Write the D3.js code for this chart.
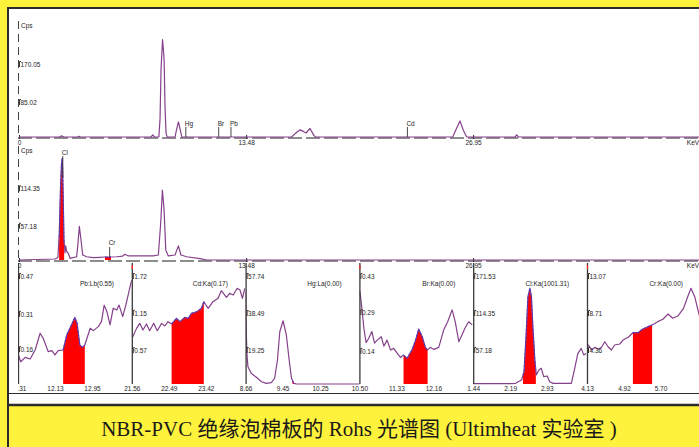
<!DOCTYPE html>
<html>
<head>
<meta charset="utf-8">
<script src="https://cdn.jsdelivr.net/npm/d3@7"></script>
<style>
  html, body { margin: 0; padding: 0; background: #fff23c; }
  svg { display: block; }
  .lbl { font-family: 'Liberation Sans', Arial, sans-serif; font-size: 6.5px; fill: #1e1e1e; }
  .caption { font-family: 'Liberation Serif', 'Times New Roman', 'Noto Sans CJK SC', serif; font-size: 21px; fill: #1a1a1a; }
</style>
</head>
<body>
<svg id="chart" width="699" height="447"></svg>
<script>
  'use strict';

  // full spectra (keV, cps)
  var keVTicks = [13.48, 26.95];
  var keVMax = 40.43;

  var topYTicks = [85.02, 170.05];
  var topYMax = 255.07;
  var midYTicks = [57.18, 114.35];
  var midYMax = 171.53;

  var topSpectrum = [
    [0, 0], [2.40, 0], [2.53, 2.5], [2.66, 0], [3.48, 0], [3.56, 1.5], [3.64, 0],
    [7.84, 0], [7.94, 4.5], [8.04, 0], [8.30, 0], [8.37, 40], [8.43, 152], [8.52, 218],
    [8.61, 175], [8.67, 63], [8.73, 7], [8.80, 0], [9.26, 0], [9.36, 18], [9.46, 34],
    [9.56, 18], [9.66, 0], [16.18, 0], [16.40, 8], [16.68, 16], [16.90, 12], [17.03, 9],
    [17.27, 19], [17.51, 3], [17.60, 0], [25.74, 0], [25.95, 18], [26.17, 36], [26.37, 15],
    [26.57, 0], [29.44, 0], [29.54, 4.5], [29.64, 0], [40.43, 0]
  ];

  var midSpectrum = [
    [0, 0], [2.14, 1.5], [2.26, 3], [2.31, 4], [2.39, 40], [2.46, 108], [2.52, 147],
    [2.57, 156], [2.61, 116], [2.67, 31], [2.73, 11], [2.77, 21.6], [2.83, 13], [2.93, 10],
    [3.03, 2.6], [3.42, 5], [3.50, 25], [3.58, 51.5], [3.68, 31], [3.78, 7.7], [4.02, 5],
    [4.41, 3.6], [4.81, 4.1], [5.10, 4.6], [5.46, 4.6], [5.80, 5], [6.15, 6], [6.29, 8.8],
    [6.49, 6.2], [7.18, 6.2], [7.97, 6.2], [8.27, 7.7], [8.41, 56.7], [8.51, 107], [8.61, 77],
    [8.71, 15.5], [8.86, 6.2], [9.26, 7.7], [9.46, 21.6], [9.61, 7.7], [9.95, 5], [10.74, 2],
    [11.14, 0], [40.43, 0]
  ];

  var topLines = ['Hg', 'Br', 'Pb', 'Cd'];
  var topLineKeV = [9.90, 11.85, 12.58, 23.05];
  var midLines = ['Cl', 'Cr'];
  var midLineKeV = [2.60, 5.38];
  var midWindows = [[2.38, 2.68], [5.10, 5.46]];

  // zoomed regions of interest
  var roiNames = ['Pb:Lb(0.55)', 'Cd:Ka(0.17)', 'Hg:La(0.00)', 'Br:Ka(0.00)', 'Cl:Ka(1001.31)', 'Cr:Ka(0.00)'];
  var roiXTicks = [
    [11.31, 12.13, 12.95], [21.56, 22.49, 23.42], [8.66, 9.45, 10.25],
    [10.50, 11.33, 12.16], [1.44, 2.19, 2.93], [4.13, 4.92, 5.70]
  ];
  var roiYTicks = [
    [0.16, 0.31, 0.47], [0.57, 1.15, 1.72], [19.25, 38.49, 57.74],
    [0.14, 0.29, 0.43], [57.18, 114.35, 171.53], [4.36, 8.71, 13.07]
  ];
  var roiWindows = [[12.31, 12.79], [22.56, 23.37], [9.66, 10.30], [11.49, 12.03], [2.45, 2.71], [5.11, 5.52]];

  var pbRoi = [
    [11.32, 0.123], [11.37, 0.094], [11.47, 0.113], [11.58, 0.106], [11.69, 0.144], [11.80, 0.215],
    [11.87, 0.193], [11.98, 0.137], [12.06, 0.141], [12.13, 0.123], [12.20, 0.141], [12.31, 0.144],
    [12.39, 0.207], [12.46, 0.236], [12.57, 0.282], [12.62, 0.257], [12.68, 0.165], [12.74, 0.155],
    [12.79, 0.165], [12.91, 0.236], [12.98, 0.226], [13.09, 0.243], [13.16, 0.264], [13.22, 0.334],
    [13.28, 0.306], [13.35, 0.250], [13.42, 0.321], [13.50, 0.313], [13.55, 0.334], [13.63, 0.285],
    [13.70, 0.334], [13.79, 0.409], [13.83, 0.44]
  ];
  var cdRoi = [
    [21.58, 0.723], [21.68, 0.862], [21.76, 0.94], [21.84, 0.837], [21.93, 0.93], [22.01, 0.826],
    [22.11, 0.94], [22.20, 0.826], [22.31, 0.94], [22.39, 0.899], [22.47, 0.966], [22.56, 0.93],
    [22.68, 1.018], [22.77, 0.966], [22.89, 1.033], [22.98, 1.018], [23.06, 1.095], [23.19, 1.12],
    [23.31, 1.173], [23.37, 1.275], [23.48, 1.173], [23.60, 1.275], [23.73, 1.328], [23.81, 1.446],
    [23.94, 1.343], [24.02, 1.405], [24.11, 1.379], [24.21, 1.483], [24.28, 1.457], [24.34, 1.328],
    [24.40, 1.483]
  ];
  var hgRoi = [
    [8.66, 48.0], [8.67, 30], [8.69, 15], [8.71, 9.0], [8.78, 5.6], [8.89, 3.5], [9.00, 1.2],
    [9.10, 0.35], [9.21, 0.7], [9.28, 3.0], [9.34, 12.5], [9.39, 27.2], [9.46, 32.9], [9.53, 25.5],
    [9.59, 12.5], [9.64, 3.0], [9.69, 0.35], [9.75, 0], [11.10, 0]
  ];
  var brRoi = [
    [10.51, 0.36], [10.56, 0.287], [10.60, 0.216], [10.65, 0.160], [10.71, 0.177], [10.78, 0.203],
    [10.84, 0.158], [10.90, 0.170], [10.99, 0.183], [11.05, 0.147], [11.12, 0.170], [11.20, 0.132],
    [11.27, 0.138], [11.35, 0.119], [11.42, 0.103], [11.49, 0.112], [11.57, 0.100], [11.68, 0.132],
    [11.76, 0.170], [11.83, 0.213], [11.91, 0.183], [11.98, 0.142], [12.03, 0.132], [12.09, 0.142],
    [12.17, 0.134], [12.28, 0.142], [12.39, 0.209], [12.48, 0.241], [12.58, 0.287], [12.65, 0.241],
    [12.73, 0.164], [12.80, 0.190], [12.87, 0.217], [12.95, 0.241], [13.03, 0.229]
  ];
  var clRoi = [
    [1.44, 0.5], [2.19, 0.5], [2.30, 1], [2.35, 3.6], [2.42, 6.2], [2.47, 19], [2.51, 73],
    [2.55, 135], [2.59, 148], [2.62, 135], [2.65, 88.5], [2.69, 37], [2.72, 14], [2.77, 21.6],
    [2.82, 24.2], [2.87, 11.3], [2.94, 12.4], [2.99, 3.6], [3.06, 1], [3.43, 1], [3.49, 21.6],
    [3.56, 47], [3.63, 55], [3.68, 45], [3.73, 47]
  ];
  var crRoi = [
    [4.14, 4.4], [4.16, 4.59], [4.23, 4.0], [4.30, 4.32], [4.37, 4.09], [4.44, 4.32], [4.51, 4.98],
    [4.58, 4.39], [4.65, 4.0], [4.72, 4.59], [4.83, 4.71], [4.90, 5.18], [5.01, 5.5], [5.11, 6.04],
    [5.22, 6.04], [5.31, 6.44], [5.43, 6.75], [5.52, 6.95], [5.64, 7.34], [5.75, 7.62], [5.86, 8.24],
    [5.96, 7.74], [6.07, 8.0], [6.19, 8.91], [6.28, 10.28], [6.35, 11.27], [6.43, 10.28], [6.50, 8.71],
    [6.55, 7.6]
  ];
  var roiSpectra = [pbRoi, cdRoi, hgRoi, brRoi, clRoi, crRoi];

  var caption = 'NBR-PVC 绝缘泡棉板的 Rohs 光谱图 (Ultimheat 实验室 )';

  var W = 699, H = 447;
  var purple = '#85408b';
  var fmt2 = d3.format('.2f');

  var svg = d3.select('#chart');

  //
  //  frame: yellow card, white sheet, dark rules
  //
  svg.append('rect').attr('width', W).attr('height', H).attr('fill', '#fff23c');
  svg.append('rect').attr('x', 9).attr('y', 9).attr('width', W - 9).attr('height', 395).attr('fill', '#ffffff');

  var frame = svg.append('g').attr('stroke', '#2b2b2b').attr('fill', 'none');
  frame.append('line').attr('x1', 7).attr('x2', W).attr('y1', 8).attr('y2', 8).attr('stroke-width', 2);
  frame.append('line').attr('x1', 8).attr('x2', 8).attr('y1', 7).attr('y2', H).attr('stroke-width', 2);
  frame.append('line').attr('x1', 9).attr('x2', W).attr('y1', 393.5).attr('y2', 393.5).attr('stroke-width', 1);
  frame.append('line').attr('x1', 7).attr('x2', W).attr('y1', 405).attr('y2', 405).attr('stroke-width', 2.5);

  svg.append('defs').append('clipPath').attr('id', 'plotClip')
    .append('rect').attr('x', 18).attr('y', 9).attr('width', W - 18).attr('height', 384);

  var plot = svg.append('g').attr('clip-path', 'url(#plotClip)');

  function valueAt(data, k) {
    var i = d3.bisector(function(d) { return d[0]; }).left(data, k);
    if (i <= 0) return data[0][1];
    if (i >= data.length) return data[data.length - 1][1];
    var a = data[i - 1], b = data[i];
    return a[1] + (b[1] - a[1]) * (k - a[0]) / (b[0] - a[0]);
  }

  function windowPts(data, w) {
    var inside = data.filter(function(d) { return d[0] > w[0] && d[0] < w[1]; });
    return [[w[0], valueAt(data, w[0])]].concat(inside, [[w[1], valueAt(data, w[1])]]);
  }

  function drawTrace(g, data, x, y, windows, width) {
    var line = d3.line().x(function(d) { return x(d[0]); }).y(function(d) { return y(d[1]); });
    var area = d3.area()
      .x(function(d) { return x(d[0]); })
      .y0(y(0))
      .y1(function(d) { return y(d[1]); });

    windows.forEach(function(w) {
      g.append('path').datum(windowPts(data, w)).attr('d', area).attr('fill', '#ff0000');
    });

    g.append('path').datum(data)
      .attr('d', line)
      .attr('fill', 'none')
      .attr('stroke', purple)
      .attr('stroke-width', width)
      .attr('stroke-linejoin', 'round');

    // blue dashed outline over the integrated window
    var edge = d3.line().defined(function(d) { return d[1] > 0.5 * y.domain()[1] / 100; })
      .x(function(d) { return x(d[0]); }).y(function(d) { return y(d[1]); });
    windows.forEach(function(w) {
      g.append('path').datum(windowPts(data, w))
        .attr('d', edge)
        .attr('fill', 'none')
        .attr('stroke', '#3434d4')
        .attr('stroke-width', 0.8)
        .attr('stroke-dasharray', '2.5,1.5');
    });
  }

  function hangingYAxis(g, y, ticks, x0, tickFmt) {
    var ax = g.append('g')
      .attr('transform', 'translate(' + x0 + ',0)')
      .call(d3.axisRight(y).tickValues(ticks).tickSize(0).tickPadding(2.5).tickFormat(tickFmt));
    ax.select('.domain').remove();
    ax.selectAll('text').attr('class', 'lbl').attr('dy', null).attr('y', 5.5);
    ax.selectAll('.tick').append('path')
      .attr('d', 'M1.5,5.5V0H3')
      .attr('fill', 'none')
      .attr('stroke', '#222')
      .attr('stroke-width', 0.9);
  }

  //
  //  full spectrum panels
  //
  function drawPanel(cfg) {
    var g = plot.append('g');

    var x = d3.scaleLinear().domain([0, keVMax]).range([19, 19 + keVMax * 16.85]);
    var y = d3.scaleLinear().domain([0, cfg.yMax]).range([cfg.zero, cfg.top]);

    g.append('line')
      .attr('x1', 18.5).attr('x2', 18.5)
      .attr('y1', cfg.top - 2).attr('y2', cfg.axisY)
      .attr('stroke', '#444').attr('stroke-width', 1)
      .attr('stroke-dasharray', '8,5');

    var xAxis = g.append('g')
      .attr('transform', 'translate(0,' + cfg.axisY + ')')
      .call(d3.axisBottom(x)
        .tickValues([0].concat(keVTicks))
        .tickSizeInner(-3)
        .tickSizeOuter(0)
        .tickPadding(2.5)
        .tickFormat(function(d) { return d === 0 ? '0' : fmt2(d); }));
    xAxis.select('.domain')
      .attr('d', 'M18,0H' + W)
      .attr('stroke', '#1c1c1c')
      .attr('stroke-width', 1.2)
      .attr('stroke-dasharray', '14,4');
    xAxis.selectAll('.tick line').attr('y2', -3).attr('y1', 1).attr('stroke', '#222');
    xAxis.selectAll('text').attr('class', 'lbl');

    g.append('text').attr('class', 'lbl')
      .attr('x', 693).attr('y', cfg.axisY + 7)
      .attr('text-anchor', 'middle')
      .text('KeV');

    hangingYAxis(g, y, cfg.yTicks, 18, fmt2);

    g.append('text').attr('class', 'lbl')
      .attr('x', 21).attr('y', cfg.top + 5)
      .text('Cps');

    drawTrace(g, cfg.data, x, y, cfg.windows, 1.2);

    // element lines
    cfg.lines.forEach(function(name, i) {
      var k = cfg.lineKeV[i];
      var yv = y(valueAt(cfg.data, k));
      var near = cfg.data.filter(function(d) { return Math.abs(d[0] - k) < 0.06; });
      var peak = d3.max(near.concat([[k, valueAt(cfg.data, k)]]), function(d) { return d[1]; });
      var yTop = Math.min(y(peak) - 2, yv - 10);
      g.append('line')
        .attr('x1', x(k)).attr('x2', x(k))
        .attr('y1', yTop).attr('y2', yv)
        .attr('stroke', '#333').attr('stroke-width', 0.9);
      g.append('text').attr('class', 'lbl')
        .attr('x', x(k) - 1).attr('y', yTop - 1.5)
        .text(name);
    });
  }

  drawPanel({
    data: topSpectrum, yMax: topYMax, yTicks: topYTicks,
    zero: 137, top: 23, axisY: 138,
    lines: topLines, lineKeV: topLineKeV, windows: []
  });

  drawPanel({
    data: midSpectrum, yMax: midYMax, yTicks: midYTicks,
    zero: 260, top: 148, axisY: 261,
    lines: midLines, lineKeV: midLineKeV, windows: midWindows
  });

  //
  //  ROI strip
  //
  var roiW = 113.8, roiGap = 37, roiZero = 384, roiTop = 273;

  roiNames.forEach(function(name, i) {
    var x0 = 18 + i * roiW;
    var t = roiXTicks[i];
    var g = plot.append('g');

    var x = d3.scaleLinear()
      .domain([t[0], t[0] + (t[1] - t[0]) * roiW / roiGap])
      .range([x0, x0 + roiW]);
    var y = d3.scaleLinear().domain([0, roiYTicks[i][2]]).range([roiZero, roiTop]);

    var clipId = 'roiClip' + i;
    svg.select('defs').append('clipPath').attr('id', clipId)
      .append('rect').attr('x', x0).attr('y', 262).attr('width', roiW).attr('height', 124);

    drawTrace(g.append('g').attr('clip-path', 'url(#' + clipId + ')'),
      roiSpectra[i], x, y, [roiWindows[i]], 1.2);

    g.append('line')
      .attr('x1', x0 + 0.5).attr('x2', x0 + 0.5)
      .attr('y1', 263).attr('y2', roiZero)
      .attr('stroke', '#3a3a3a').attr('stroke-width', 1.3);

    if (i % 2 === 1) {
      g.append('line')
        .attr('x1', x0 + 0.5).attr('x2', x0 + 0.5)
        .attr('y1', 265).attr('y2', 269)
        .attr('stroke', '#ff2020').attr('stroke-width', 1.2);
    }

    hangingYAxis(g, y, roiYTicks[i], x0, fmt2);

    var xAxis = g.append('g')
      .attr('transform', 'translate(0,' + roiZero + ')')
      .call(d3.axisBottom(x).tickValues(t).tickSize(0).tickPadding(2.5).tickFormat(fmt2));
    xAxis.select('.domain').remove();
    xAxis.selectAll('text').attr('class', 'lbl');

    g.append('text').attr('class', 'lbl')
      .attr('x', x0 + 96).attr('y', 285.5)
      .attr('text-anchor', 'end')
      .text(name);
  });

  svg.append('text').attr('class', 'caption')
    .attr('x', 359).attr('y', 436)
    .attr('text-anchor', 'middle')
    .text(caption);
</script>
</body>
</html>
